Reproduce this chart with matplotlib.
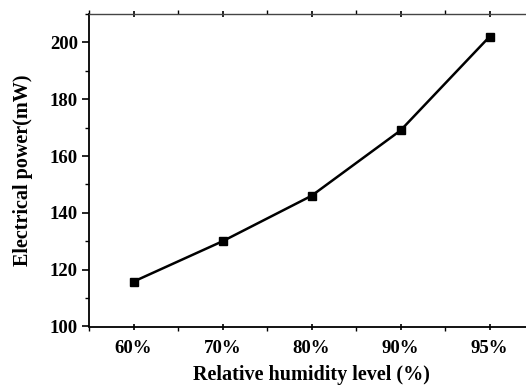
import numpy as np
import matplotlib.pyplot as plt
from matplotlib.ticker import MultipleLocator

# humidity levels and measured power
humidity = ["60%", "70%", "80%", "90%", "95%"]
power_mw = [115.8, 130.0, 146.0, 169.0, 202.0]

plt.rcParams["font.family"] = ["Liberation Serif", "DejaVu Serif"]
plt.rcParams["font.weight"] = "bold"

fig = plt.figure(figsize=(5.26, 3.85), dpi=100)
# axes runs past the right edge, so the right spine is cut off like the original
ax = fig.add_axes([89 / 526, 1 - 326.5 / 385, 445 / 526, 312.5 / 385])

x = np.arange(len(humidity))
ax.plot(x, power_mw, color="black", lw=1.8, marker="s", ms=5.5)

ax.set_xlim(-0.5, 4.5)
ax.set_ylim(100, 210)
ax.set_xticks(x)
ax.set_xticklabels(humidity)
ax.xaxis.set_minor_locator(MultipleLocator(0.5))
ax.yaxis.set_major_locator(MultipleLocator(20))
ax.yaxis.set_minor_locator(MultipleLocator(10))

ax.tick_params(axis="both", which="major", direction="out", length=5, width=1.2,
               labelsize=13.5)
ax.tick_params(axis="y", which="major", pad=3)
ax.tick_params(axis="x", which="major", pad=7)
ax.tick_params(axis="both", which="minor", direction="out", length=3, width=1)
ax.tick_params(axis="x", which="both", top=True)
ax.tick_params(axis="x", which="major", top=True, direction="inout", length=5)
for lab in ax.get_xticklabels() + ax.get_yticklabels():
    lab.set_fontweight("bold")

ax.spines["left"].set_linewidth(1.3)
ax.spines["bottom"].set_linewidth(1.3)
ax.spines["top"].set_color("#444444")
ax.spines["top"].set_linewidth(1.0)

ax.set_xlabel("Relative humidity level (%)", fontsize=14.5, fontweight="bold", labelpad=6)
ax.set_ylabel("Electrical power(mW)", fontsize=14.5, fontweight="bold", labelpad=12)

fig.savefig("out.png", dpi=100)
